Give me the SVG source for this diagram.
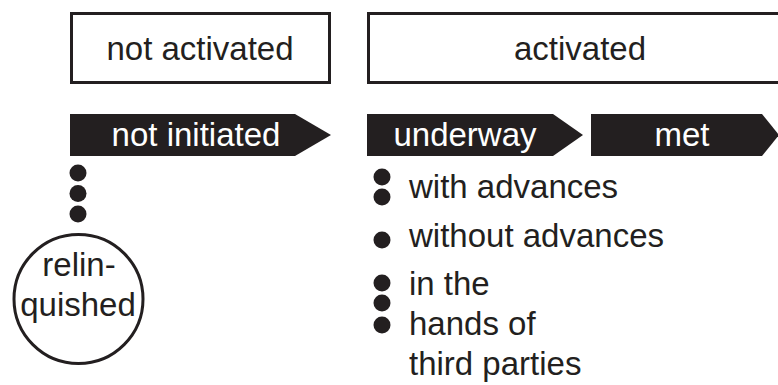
<svg xmlns="http://www.w3.org/2000/svg" width="778" height="385" viewBox="0 0 778 385">
<style>
.box{fill:#fff;stroke:#231f20;stroke-width:3}
.arr{fill:#231f20}
.t{font-family:"Liberation Sans",Arial,sans-serif;font-size:33px;fill:#231f20}
.w{fill:#fff}
.m{text-anchor:middle}
.dot{fill:#231f20}
</style>
<rect width="778" height="385" fill="#fff"/>
<g id="not-activated">
<rect class="box" x="71.5" y="13.5" width="258" height="69"/>
<text class="t m" x="200" y="60">not activated</text>
</g>
<g id="activated">
<rect class="box" x="368.5" y="13.5" width="430" height="69"/>
<text class="t m" x="580" y="60">activated</text>
</g>
<g id="not-initiated">
<polygon class="arr" points="70,114 295,114 331,135 295,156 70,156"/>
<text class="t m w" x="196" y="146">not initiated</text>
</g>
<g id="underway">
<polygon class="arr" points="367,114 553,114 583,135 553,156 367,156"/>
<text class="t m w" x="465" y="146">underway</text>
</g>
<g id="met">
<polygon class="arr" points="591,114 762,114 779,135 762,156 591,156"/>
<text class="t m w" x="682" y="146">met</text>
</g>
<g id="connectors">
<circle class="dot" cx="78" cy="173" r="8.5"/>
<circle class="dot" cx="78" cy="193.5" r="8.5"/>
<circle class="dot" cx="78" cy="214" r="8.5"/>
</g>
<g id="relinquished">
<circle cx="78.5" cy="299" r="64.5" fill="#fff" stroke="#231f20" stroke-width="3"/>
<text class="t m" x="79" y="276">relin-</text>
<text class="t m" x="78" y="316">quished</text>
</g>
<g id="with-advances">
<circle class="dot" cx="382" cy="177" r="8.5"/>
<circle class="dot" cx="382" cy="197" r="8.5"/>
<text class="t" x="409" y="198">with advances</text>
</g>
<g id="without-advances">
<circle class="dot" cx="382" cy="240" r="8.5"/>
<text class="t" x="409" y="247">without advances</text>
</g>
<g id="third-parties">
<circle class="dot" cx="382" cy="283" r="8.5"/>
<circle class="dot" cx="382" cy="303" r="8.5"/>
<circle class="dot" cx="382" cy="325" r="8.5"/>
<text class="t" x="409" y="295">in the</text>
<text class="t" x="409" y="335">hands of</text>
<text class="t" x="409" y="375">third parties</text>
</g>
</svg>
